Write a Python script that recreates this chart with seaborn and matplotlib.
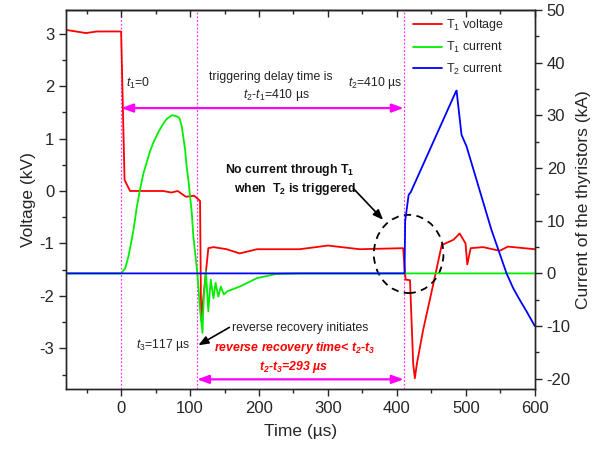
import numpy as np
import pandas as pd
import matplotlib
matplotlib.use("Agg")
import matplotlib.pyplot as plt
from matplotlib.ticker import MultipleLocator
from matplotlib.patches import Ellipse
from matplotlib.lines import Line2D
import seaborn as sns

# ---- data ----
t_v = [-80, -51, -35, 0, 5, 13, 61, 73, 82, 94, 106, 114.5, 116, 126.5, 134, 153, 172, 197,
       259, 300, 346, 409, 412.6, 419, 423.6, 426, 429, 438, 453, 465, 482, 491, 499.5,
       502, 507, 525, 549, 561, 600]
v_t1 = [3.07, 3.01, 3.04, 3.04, 0.21, 0.0, 0.0, -0.03, 0.0, -0.11, -0.09, -0.19, -2.46, -1.09,
        -1.07, -1.11, -1.19, -1.11, -1.11, -1.04, -1.11, -1.09, -1.69, -1.70, -3.29, -3.57,
        -3.29, -2.65, -1.76, -1.03, -0.93, -0.81, -1.0, -1.40, -1.09, -1.07, -1.14, -1.06, -1.11]

t_i1 = [-80, 0, 6, 10.6, 14.5, 18, 22.7, 27.5, 32.4, 42, 47, 54, 61, 66, 73.5, 75.8, 80.7,
        84.5, 88, 89.4, 92.8, 95, 97.5, 102.5, 104.8, 110.6, 114.5, 118,
        120, 123, 126.5, 130, 134, 137, 141, 144.6, 149, 154, 172, 197, 225, 259, 600]
i_t1 = [0, 0, 1.0, 3.2, 5.8, 8.3, 12.5, 16.0, 19.0, 23.2, 24.9, 26.8, 28.4, 29.3, 30.0, 30.0,
        29.8, 29.5, 27.9, 26.6, 23.5, 20.3, 17.8, 11.5, 7.0, 0.0, -6.9, -11.3,
        -4.4, 0.4, -7.2, -1.2, -4.7, -1.8, -4.4, -2.5, -4.0, -3.4, -2.5, -0.9, -0.1, 0, 0]

t_i2 = [-80, 411, 412, 417, 420, 485.5, 486.5, 493.7, 501, 537, 559, 568.6, 578, 588, 600]
i_t2 = [0, 0, 10.0, 14.9, 15.4, 34.5, 34.7, 26.3, 24.1, 8.3, 0.0, -2.8, -5.0, -7.2, -10.0]

x_ticks = [0, 100, 200, 300, 400, 500, 600]
v_ticks = [-3, -2, -1, 0, 1, 2, 3]
i_ticks = [-20, -10, 0, 10, 20, 30, 40, 50]

t1, t3, t2 = 0, 110, 410

# ---- style ----
sns.set_style("ticks")
plt.rcParams["font.family"] = ["Liberation Sans", "DejaVu Sans"]
plt.rcParams["mathtext.fontset"] = "custom"
plt.rcParams["mathtext.rm"] = "Liberation Sans"
plt.rcParams["mathtext.it"] = "Liberation Sans:italic"
plt.rcParams["mathtext.bf"] = "Liberation Sans:bold"
plt.rcParams["mathtext.bfit"] = "Liberation Sans:italic:bold"
plt.rcParams["axes.linewidth"] = 1.0
plt.rcParams["axes.unicode_minus"] = False

fig = plt.figure(figsize=(6.05, 4.53), dpi=100)
ax = fig.add_axes([0.109, 0.1406, 0.884 - 0.109, 0.978 - 0.1406])
ax2 = ax.twinx()

MAG = "#ff33ff"
lw = 1.3

df_v = pd.DataFrame({"t": t_v, "v": v_t1})
df_i1 = pd.DataFrame({"t": t_i1, "i": i_t1})
df_i2 = pd.DataFrame({"t": t_i2, "i": i_t2})

sns.lineplot(data=df_v, x="t", y="v", ax=ax, color="#ff0000", lw=lw, sort=False, estimator=None)
sns.lineplot(data=df_i1, x="t", y="i", ax=ax2, color="#00ee00", lw=lw, sort=False, estimator=None)
sns.lineplot(data=df_i2, x="t", y="i", ax=ax2, color="#0000ff", lw=lw, sort=False, estimator=None)

ax.set_xlim(-80, 600)
ax.set_ylim(-3.78, 3.45)
ax2.set_ylim(-22, 50)

ax.set_xticks(x_ticks)
ax.set_yticks(v_ticks)
ax2.set_yticks(i_ticks)
ax.xaxis.set_minor_locator(MultipleLocator(50))
ax.yaxis.set_minor_locator(MultipleLocator(0.5))
ax2.yaxis.set_minor_locator(MultipleLocator(5))
for a in (ax, ax2):
    a.tick_params(which="major", direction="out", length=5, width=1, labelsize=12)
    a.tick_params(which="minor", direction="out", length=3, width=1)
secax = ax.secondary_xaxis("top")
secax.set_xticks(x_ticks)
secax.xaxis.set_minor_locator(MultipleLocator(50))
secax.tick_params(which="major", direction="in", length=5, width=1, labeltop=False)
secax.tick_params(which="minor", direction="in", length=3, width=1)

ax.set_xlabel("Time (µs)", fontsize=12.5, labelpad=6)
ax.set_ylabel("Voltage (kV)", fontsize=12.5, labelpad=2)
ax2.set_ylabel("Current of the thyristors (kA)", fontsize=12.5, labelpad=4)

# vertical markers
for xv in (t1, t3, t2):
    ax.axvline(xv, color=MAG, ls=(0, (1.5, 1.5)), lw=0.9, zorder=0)

# arrows
arr = dict(arrowstyle="<|-|>,head_length=0.5,head_width=0.18", color="#ff00ff", lw=1.6,
           mutation_scale=14, shrinkA=0, shrinkB=0)
ax.annotate("", xy=(t1, 1.58), xytext=(t2, 1.58), arrowprops=arr)
ax.annotate("", xy=(t3, -3.59), xytext=(t2, -3.59), arrowprops=arr)

fs = 8.8
ax.text(7, 2.04, r"$t_1$=0", fontsize=fs, color="#222222", ha="left", va="center")
ax.text(217, 2.18, "triggering delay time is", fontsize=fs, color="#222222", ha="center", va="center")
ax.text(225, 1.83, r"$t_2$-$t_1$=410 µs", fontsize=fs, color="#222222", ha="center", va="center")
ax.text(369, 2.06, r"$t_2$=410 µs", fontsize=fs, color="#222222", ha="center", va="center")
ax.text(245, 0.40, r"No current through T$_\mathbf{1}$", fontsize=fs, fontweight="bold",
        color="#111111", ha="center", va="center")
ax.text(252, 0.03, r"when  T$_\mathbf{2}$ is triggered", fontsize=fs, fontweight="bold",
        color="#111111", ha="center", va="center")
ax.annotate("", xy=(380, -0.55), xytext=(336.7, 0.05),
            arrowprops=dict(arrowstyle="-|>,head_length=0.5,head_width=0.2", color="black",
                            lw=1.2, mutation_scale=12, shrinkA=0, shrinkB=0))
ax.add_patch(Ellipse((417, -1.20), 101, 1.49, fill=False, ls=(0, (4, 3)), lw=1.3,
                     edgecolor="black", zorder=5))

ax.text(259, -2.61, "reverse recovery initiates", fontsize=fs, color="#222222", ha="center", va="center")
ax.annotate("", xy=(112, -2.94), xytext=(157, -2.6),
            arrowprops=dict(arrowstyle="-|>,head_length=0.5,head_width=0.2", color="black",
                            lw=1.2, mutation_scale=12, shrinkA=0, shrinkB=0))
ax.text(61, -2.94, r"$t_3$=117 µs", fontsize=fs, color="#222222", ha="center", va="center")
ax.text(252, -3.0, r"reverse recovery time< $\mathbfit{t}_\mathbfit{2}$-$\mathbfit{t}_\mathbfit{3}$",
        fontsize=fs, fontweight="bold", style="italic", color="#ff0000", ha="center", va="center")
ax.text(250, -3.35, r"$\mathbfit{t}_\mathbfit{2}$-$\mathbfit{t}_\mathbfit{3}$=293 µs",
        fontsize=fs, fontweight="bold", style="italic", color="#ff0000", ha="center", va="center")

handles = [Line2D([], [], color="#ff0000", lw=lw), Line2D([], [], color="#00ee00", lw=lw),
           Line2D([], [], color="#0000ff", lw=lw)]
labels = [r"T$_1$ voltage", r"T$_1$ current", r"T$_2$ current"]
ax2.legend(handles, labels, loc="upper left", bbox_to_anchor=(413 / 605, 1 - 17 / 453),
           bbox_transform=fig.transFigure, frameon=False, fontsize=9, borderpad=0,
           borderaxespad=0, handlelength=2.3, handletextpad=0.3, labelspacing=0.55)

fig.savefig("out.png", dpi=100)
